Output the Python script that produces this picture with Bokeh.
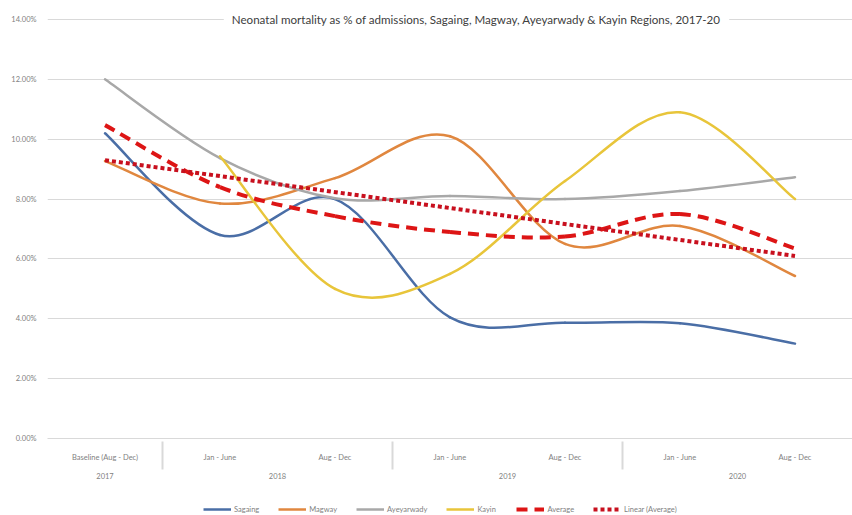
from bokeh.plotting import figure
from bokeh.layouts import column
from bokeh.models import (FactorRange, ColumnDataSource, Legend, LegendItem, Label,
                          PrintfTickFormatter, FixedTicker)
from bokeh.embed import file_html
from bokeh.resources import INLINE

# ---------------- data ----------------
years = ["2017", "2018", "2018", "2019", "2019", "2020", "2020"]
periods = ["Baseline (Aug - Dec)", "Jan - June", "Aug - Dec", "Jan - June",
           "Aug - Dec", "Jan - June", "Aug - Dec"]
sagaing = [10.2, 6.8, 8.0, 4.05, 3.87, 3.85, 3.17]
magway = [9.27, 7.85, 8.7, 10.1, 6.5, 7.1, 5.43]
ayeyarwady = [12.0, 9.37, 8.03, 8.1, 8.0, 8.27, 8.73]
kayin = [None, 9.43, 5.0, 5.5, 8.6, 10.9, 8.0]
average = [10.47, 8.4, 7.43, 6.9, 6.75, 7.5, 6.35]
trend_ends = [9.3, 6.1]          # Linear (Average) at first and last category
y_ticks = [0, 2, 4, 6, 8, 10, 12, 14]
title_text = ("Neonatal mortality as % of admissions, Sagaing, Magway, "
              "Ayeyarwady & Kayin Regions, 2017-20")

factors = list(zip(years, periods))

FONT = "Lato"
GRAY_TXT = "#7f7f7f"
GRID = "#d9d9d9"
NAN = float("nan")

p = figure(width=852, height=493, x_range=FactorRange(*factors, factor_padding=0,
                                                       group_padding=0, range_padding=0),
           y_range=(0, 14.3), output_backend="svg", toolbar_location=None,
           min_border_left=47, min_border_right=0, min_border_top=10,
           min_border_bottom=55)
p.outline_line_color = None
p.background_fill_color = "white"
p.border_fill_color = "white"

# y axis
p.yaxis.ticker = FixedTicker(ticks=y_ticks)
p.yaxis.formatter = PrintfTickFormatter(format="%.2f%%")
p.yaxis.axis_line_color = None
p.yaxis.major_tick_line_color = None
p.yaxis.minor_tick_line_color = None
p.yaxis.major_label_text_font = FONT
p.yaxis.major_label_text_font_size = "7.5px"
p.yaxis.major_label_text_color = GRAY_TXT
p.yaxis.major_label_standoff = 5
p.ygrid.grid_line_color = GRID
p.xgrid.grid_line_color = None

# x axis
xa = p.xaxis[0]
xa.axis_line_color = GRID
xa.major_tick_line_color = None
xa.minor_tick_line_color = None
xa.major_label_text_font = FONT
xa.major_label_text_font_size = "7.5px"
xa.major_label_text_color = GRAY_TXT
xa.group_text_font = FONT
xa.group_text_font_size = "7.5px"
xa.group_text_color = GRAY_TXT
xa.group_text_font_style = "normal"
xa.separator_line_color = GRID
xa.major_label_standoff = 8


def smooth_source(vals):
    """Bezier segments (Excel-like smoothing) between consecutive valid points."""
    idx = [i for i, v in enumerate(vals) if v is not None]
    a, b = idx[0], idx[-1]
    d = dict(x0=[], y0=[], x1=[], y1=[], cx0=[], cy0=[], cx1=[], cy1=[])
    for i in range(a, b):
        prv = i - 1 if i - 1 >= a else i
        nxt = i + 2 if i + 2 <= b else i + 1
        d["x0"].append(list(factors[i]))
        d["y0"].append(vals[i])
        d["x1"].append(list(factors[i + 1]))
        d["y1"].append(vals[i + 1])
        d["cx0"].append(list(factors[i]) + [(i + 1 - prv) / 6.0])
        d["cy0"].append(vals[i] + (vals[i + 1] - vals[prv]) / 6.0)
        d["cx1"].append(list(factors[i + 1]) + [-(nxt - i) / 6.0])
        d["cy1"].append(vals[i + 1] - (vals[nxt] - vals[i]) / 6.0)
    return ColumnDataSource(d)


series = [
    ("Sagaing", sagaing, "#4a6ea6", 2.5, "solid"),
    ("Magway", magway, "#e0873f", 2.5, "solid"),
    ("Ayeyarwady", ayeyarwady, "#a8a8a8", 2.5, "solid"),
    ("Kayin", kayin, "#e8c53a", 2.5, "solid"),
    ("Average", average, "#dd1515", 4, "11 7"),
]

# legend strip (separate small figure below the chart)
lg = figure(width=852, height=22, output_backend="svg", toolbar_location=None,
            x_axis_type=None, y_axis_type=None, min_border=0,
            x_range=(0, 1), y_range=(0, 1))
lg.outline_line_color = None
lg.grid.grid_line_color = None

items = []
for name, vals, col, w, dash in series:
    p.bezier(x0="x0", y0="y0", x1="x1", y1="y1", cx0="cx0", cy0="cy0",
             cx1="cx1", cy1="cy1", source=smooth_source(vals),
             line_color=col, line_width=w, line_dash=dash,
             line_cap="round" if dash == "solid" else "butt")
    key = lg.line(x=[NAN], y=[NAN], line_color=col, line_width=w, line_dash=dash)
    items.append(LegendItem(label=name, renderers=[key]))

p.line(x=[factors[0], factors[-1]], y=trend_ends, line_color="#c8101e",
       line_width=4, line_dash="4 3")
key = lg.line(x=[NAN], y=[NAN], line_color="#c8101e", line_width=4, line_dash="4 3")
items.append(LegendItem(label="Linear (Average)", renderers=[key]))

legend = Legend(items=items, orientation="horizontal", location=(156, 1),
                label_text_font=FONT, label_text_font_size="7.5px",
                label_text_color=GRAY_TXT, glyph_width=28, glyph_height=10,
                spacing=19, padding=2, margin=0, label_standoff=3,
                border_line_color=None, background_fill_alpha=0)
lg.add_layout(legend)

title = Label(x=429, y=14, x_units="screen", y_units="data", text=title_text,
              text_font=FONT, text_font_size="11.6px", text_color="#404040",
              text_align="center", text_baseline="middle",
              background_fill_color="white", padding=8)
p.add_layout(title)

layout = column(p, lg, spacing=0)
open("out.html", "w").write(file_html(layout, INLINE))
